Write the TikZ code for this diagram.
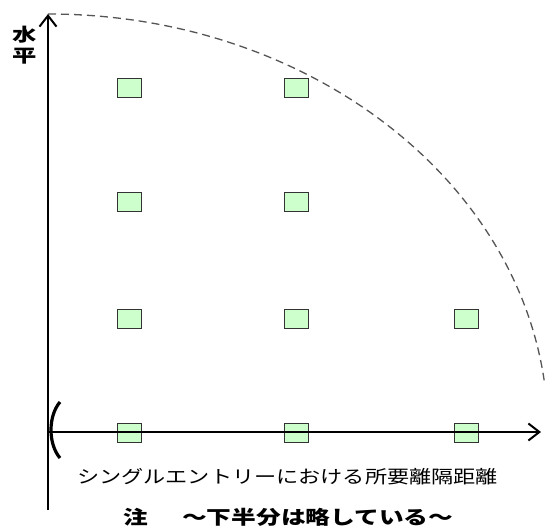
\documentclass[tikz,border=0pt]{standalone}
\usepackage{fontspec}
\newfontfamily\jp{Noto Sans CJK JP}
\usetikzlibrary{arrows.meta}
\definecolor{boxfill}{HTML}{CCFFCC}
\definecolor{boxline}{HTML}{333333}
\definecolor{arcgray}{HTML}{555555}
\tikzset{
  cell/.style={draw=boxline, fill=boxfill, line width=1.4pt, minimum width=24pt, minimum height=19pt, inner sep=0pt, rectangle},
  axis/.style={line width=2pt, -{Straight Barb[length=11pt,width=17pt,line width=2pt]}},
  lbl/.style={inner sep=0pt, font=\jp}
}
\begin{document}
\begin{tikzpicture}[x=1pt,y=-1pt]
\useasboundingbox (0,0) rectangle (545,529);
% coordinates
\coordinate (O) at (48,432);
\coordinate (ytop) at (48,14);
\coordinate (ybot) at (48,510);
\coordinate (xend) at (541,432);
\coordinate (arcA) at (48,14);
% dashed quarter ellipse
\draw[arcgray, line width=1.3pt, dash pattern=on 8pt off 5pt] (arcA) arc[start angle=90, end angle=7.1, x radius=500, y radius=-418];
% squares
\foreach \r/\y in {1/88,2/202,3/319,4/433}{
  \node[cell] (c\r a) at (129.5,\y) {};
  \node[cell] (c\r b) at (296.5,\y) {};
}
\node[cell] (c3c) at (466.5,319) {};
\node[cell] (c4c) at (466.5,433) {};
% axes
\draw[axis] (ybot) -- (ytop);
\draw[axis, line width=1.8pt] (O) -- (xend);
% bracket
\draw[line width=3.2pt] (60,402) .. controls (48,416) and (48,444) .. (60,458);
% labels
\node[lbl, font=\jp\bfseries\fontsize{18}{18}\selectfont, xscale=1.35] (lh1) at (25,35) {水};
\node[lbl, font=\jp\bfseries\fontsize{18}{18}\selectfont, xscale=1.35] (lh2) at (25,56) {平};
\node[lbl, font=\jp\fontsize{18}{18}\selectfont, xscale=1.23, anchor=west] (lx) at (77,477) {シングルエントリーにおける所要離隔距離};
\node[lbl, font=\jp\bfseries\fontsize{19}{19}\selectfont, xscale=1.3, anchor=west] (ln1) at (123,517) {注};
\node[lbl, font=\jp\bfseries\fontsize{19}{19}\selectfont, xscale=1.3, anchor=west] (ln2) at (182,517) {～下半分は略している～};
\end{tikzpicture}
\end{document}
